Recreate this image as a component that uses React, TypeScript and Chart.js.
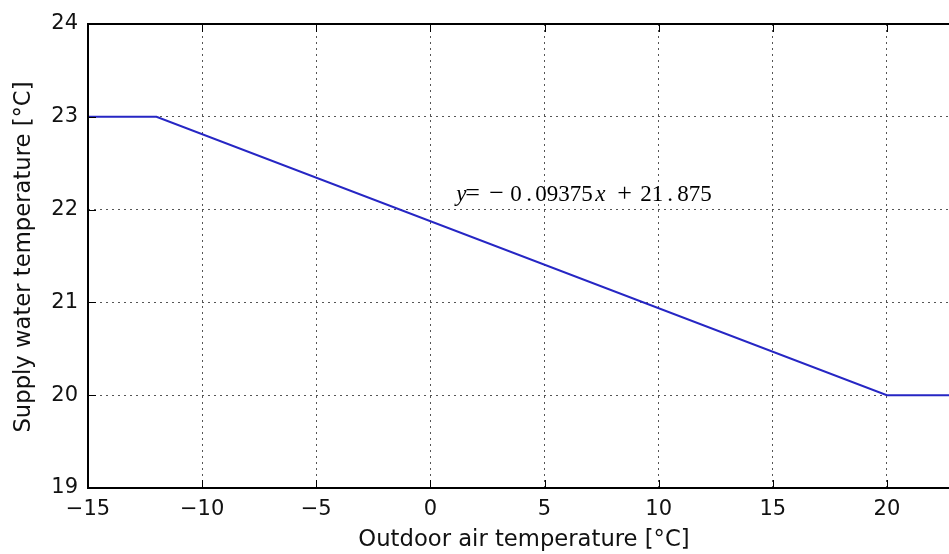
import React, { useEffect, useRef } from "react";
import { Chart, registerables } from "chart.js";

Chart.register(...registerables);

// ---- data ----
const outdoorTemps = [-15, -12, 20, 25];
const supplyTemps = [23, 23, 20, 20];
const xTickValues = [-15, -10, -5, 0, 5, 10, 15, 20, 25];
const yTickValues = [19, 20, 21, 22, 23, 24];
const xAxisTitle = "Outdoor air temperature [°C]";
const yAxisTitle = "Supply water temperature [°C]";
const equationAnchor = [1, 22.1]; // data coordinates (x, y)
const equationPieces = ["y", "=", "\u2212", "0", ".", "09375", "x", "+", "21", ".", "875"];
const equationItalic = [true, false, false, false, false, false, true, false, false, false, false];

// ---- layout / style ----
const CANVAS_W = 1060;
const CANVAS_H = 554;
const PLOT_TOP = 24;
const PLOT_LEFT = 88;
const PLOT_RIGHT = 1001;
const PLOT_BOTTOM = 488;
const equationOffsets = [3, 12, 36, 57, 73, 82, 142, 164, 187, 214, 224];
const equationSizes = [23, 26, 26, 23, 23, 23, 23, 26, 23, 23, 23];
const LINE_COLOR = "#2626c4";
const TICK_FONT = "DejaVu Sans";

const fmt = (v: number) => (v < 0 ? "\u2212" + Math.abs(v) : String(v));

const decorPlugin = {
  id: "decor",
  afterDraw(chart: any) {
    const { ctx, chartArea, scales } = chart;
    const { left, right, top, bottom } = chartArea;
    const xs = scales.x;
    const ys = scales.y;
    ctx.save();
    // inward ticks
    ctx.strokeStyle = "#000";
    ctx.lineWidth = 1;
    const TL = 8;
    ctx.beginPath();
    xTickValues.forEach((v) => {
      const px = Math.round(xs.getPixelForValue(v)) + 0.5;
      ctx.moveTo(px, bottom);
      ctx.lineTo(px, bottom - TL);
      ctx.moveTo(px, top);
      ctx.lineTo(px, top + TL);
    });
    yTickValues.forEach((v) => {
      const py = Math.round(ys.getPixelForValue(v)) + 0.5;
      ctx.moveTo(left, py);
      ctx.lineTo(left + TL, py);
      ctx.moveTo(right, py);
      ctx.lineTo(right - TL, py);
    });
    ctx.stroke();
    // frame
    ctx.lineWidth = 2;
    ctx.strokeStyle = "#000";
    ctx.strokeRect(left, top, right - left, bottom - top);

    // equation
    const ax = xs.getPixelForValue(equationAnchor[0]);
    const ay = ys.getPixelForValue(equationAnchor[1]) + 1;
    ctx.fillStyle = "#000";
    ctx.textBaseline = "alphabetic";
    ctx.textAlign = "left";
    equationPieces.forEach((t, i) => {
      const sz = equationSizes[i];
      ctx.font = (equationItalic[i] ? "italic " : "") + sz + "px 'Liberation Serif'";
      ctx.fillText(t, ax + equationOffsets[i], ay - (sz - 23) * 0.25);
    });

    // axis titles
    ctx.fillStyle = "#111";
    ctx.font = "22.7px 'DejaVu Sans'";
    ctx.textAlign = "center";
    ctx.textBaseline = "alphabetic";
    ctx.fillText(xAxisTitle, 524, 546);
    ctx.save();
    ctx.translate(30, 257);
    ctx.rotate(-Math.PI / 2);
    ctx.fillText(yAxisTitle, 0, 0);
    ctx.restore();
    ctx.restore();
  },
};

export default function App() {
  const ref = useRef<HTMLCanvasElement | null>(null);
  useEffect(() => {
    if (!ref.current) return;
    const chart = new Chart(ref.current, {
      type: "line",
      data: {
        datasets: [
          {
            data: outdoorTemps.map((x, i) => ({ x, y: supplyTemps[i] })),
            borderColor: LINE_COLOR,
            borderWidth: 2,
            pointRadius: 0,
            fill: false,
            tension: 0,
          },
        ],
      },
      options: {
        responsive: false,
        animation: false,
        devicePixelRatio: 1,
        layout: {
          padding: { top: PLOT_TOP, right: CANVAS_W - PLOT_RIGHT, left: 0, bottom: 0 },
        },
        plugins: { legend: { display: false }, tooltip: { enabled: false } },
        scales: {
          x: {
            type: "linear",
            min: xTickValues[0],
            max: xTickValues[xTickValues.length - 1],
            afterBuildTicks: (s: any) => {
              s.ticks = xTickValues.map((v) => ({ value: v }));
            },
            afterFit: (s: any) => {
              s.height = CANVAS_H - PLOT_BOTTOM;
            },
            grid: { color: "#555", lineWidth: 1, drawTicks: false },
            border: { display: false, dash: [2, 4] },
            ticks: {
              color: "#111",
              font: { family: TICK_FONT, size: 21 },
              padding: 9,
              maxRotation: 0,
              autoSkip: false,
              callback: (v: any) => fmt(Number(v)),
            },
          },
          y: {
            type: "linear",
            min: yTickValues[0],
            max: yTickValues[yTickValues.length - 1],
            afterBuildTicks: (s: any) => {
              s.ticks = yTickValues.map((v) => ({ value: v }));
            },
            afterFit: (s: any) => {
              s.width = PLOT_LEFT;
            },
            grid: { color: "#555", lineWidth: 1, drawTicks: false },
            border: { display: false, dash: [2, 4] },
            ticks: {
              color: "#111",
              font: { family: TICK_FONT, size: 21 },
              padding: 10,
              autoSkip: false,
              callback: (v: any) => fmt(Number(v)),
            },
          },
        },
      },
      plugins: [decorPlugin],
    } as any);
    return () => chart.destroy();
  }, []);
  return (
    <div
      style={{
        position: "absolute",
        left: 0,
        top: 0,
        width: 949,
        height: 554,
        overflow: "hidden",
        background: "#fff",
      }}
    >
      <canvas
        ref={ref}
        width={CANVAS_W}
        height={CANVAS_H}
        style={{ width: CANVAS_W, height: CANVAS_H, display: "block" }}
      />
    </div>
  );
}
